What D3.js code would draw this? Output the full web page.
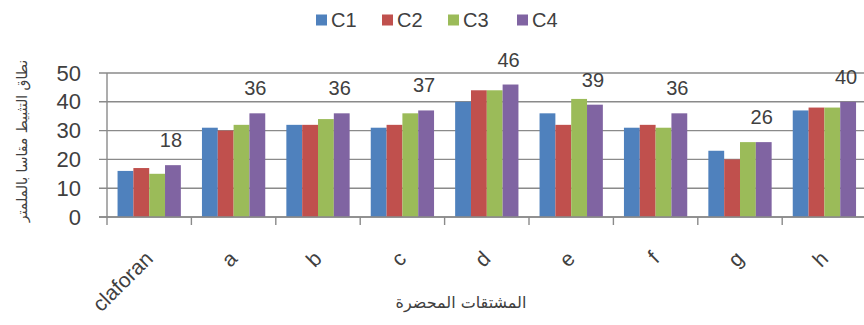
<!DOCTYPE html>
<html>
<head>
<meta charset="utf-8">
<script src="https://cdn.jsdelivr.net/npm/d3@7/dist/d3.min.js"></script>
<style>
  html, body { margin: 0; padding: 0; background: #fff; }
  svg { display: block; }
</style>
</head>
<body>
<svg id="chart" width="864" height="325"></svg>
<script>
// Categories on the x axis
const categories = ["claforan", "a", "b", "c", "d", "e", "f", "g", "h"];
// Series names
const seriesNames = ["C1", "C2", "C3", "C4"];
// Inhibition zone values per series (mm)
const c1 = [16, 31, 32, 31, 40, 36, 31, 23, 37];
const c2 = [17, 30, 32, 32, 44, 32, 32, 20, 38];
const c3 = [15, 32, 34, 36, 44, 41, 31, 26, 38];
const c4 = [18, 36, 36, 37, 46, 39, 36, 26, 40];
// Y axis ticks
const yTicks = [0, 10, 20, 30, 40, 50];
// Axis titles
const yTitle = "نطاق التثبيط مقاسا بالملمتر";
const xTitle = "المشتقات المحضرة";

const colors = ["#4F81BD", "#C0504D", "#9BBB59", "#8064A2"];
const seriesValues = [c1, c2, c3, c4];

const rows = categories.map((cat, i) => ({
  cat,
  values: seriesNames.map((s, j) => ({ key: s, value: seriesValues[j][i] }))
}));

const svg = d3.select("#chart");
const textColor = "#404040";
const gridColor = "#8a8a8a";
const font = "'Liberation Sans', Arial, sans-serif";
const arabicFont = "'DejaVu Sans', 'Noto Sans', sans-serif";

const x0 = d3.scaleBand()
  .domain(categories)
  .range([107, 866.6])
  .paddingInner(0.25)
  .paddingOuter(0.125);

const x1 = d3.scaleBand()
  .domain(seriesNames)
  .range([0, x0.bandwidth()]);

const y = d3.scaleLinear().domain([0, 50]).range([217, 73]);

const color = d3.scaleOrdinal().domain(seriesNames).range(colors);

// Y tick labels
const yAxis = d3.axisLeft(y).tickValues(yTicks).tickSize(0).tickPadding(26);
const yG = svg.append("g").attr("transform", "translate(107,0)").call(yAxis);
yG.select(".domain").remove();
yG.selectAll(".tick text")
  .attr("font-family", font)
  .attr("font-size", 22)
  .attr("fill", textColor);

// Horizontal gridlines, extending slightly left of the axis
svg.append("g").selectAll("line")
  .data(yTicks)
  .join("line")
  .attr("x1", 99)
  .attr("x2", 866)
  .attr("y1", d => y(d))
  .attr("y2", d => y(d))
  .attr("stroke", gridColor)
  .attr("stroke-width", 1.4);

// Vertical axis line
svg.append("line")
  .attr("x1", 107).attr("x2", 107)
  .attr("y1", y(50)).attr("y2", y(0) + 8)
  .attr("stroke", gridColor).attr("stroke-width", 1.4);

// Bars
const groups = svg.append("g").selectAll("g")
  .data(rows)
  .join("g")
  .attr("transform", d => `translate(${x0(d.cat)},0)`);

groups.selectAll("rect")
  .data(d => d.values)
  .join("rect")
  .attr("x", d => x1(d.key))
  .attr("width", x1.bandwidth())
  .attr("y", d => y(d.value))
  .attr("height", d => y(0) - y(d.value))
  .attr("fill", d => color(d.key));

// Category boundary ticks below the x axis
const boundaries = categories.map(c => x0(c) - x0.step() * x0.paddingInner() / 2);
svg.append("g").selectAll("line")
  .data(boundaries.slice(1))
  .join("line")
  .attr("x1", d => d).attr("x2", d => d)
  .attr("y1", y(0)).attr("y2", y(0) + 8)
  .attr("stroke", gridColor).attr("stroke-width", 1.4);

// X axis baseline (drawn over the bars)
svg.append("line")
  .attr("x1", 99).attr("x2", 866)
  .attr("y1", y(0)).attr("y2", y(0))
  .attr("stroke", gridColor).attr("stroke-width", 1.4);

// Category labels, rotated
svg.append("g").selectAll("text")
  .data(categories)
  .join("text")
  .attr("transform", d => `translate(${x0(d) + x0.bandwidth() / 2 + 5},260) rotate(-45)`)
  .attr("text-anchor", "end")
  .attr("font-family", font)
  .attr("font-size", 21)
  .attr("fill", textColor)
  .text(d => d);

// Value labels above the C4 bars
svg.append("g").selectAll("text")
  .data(rows)
  .join("text")
  .attr("x", d => x0(d.cat) + x1("C4") + x1.bandwidth() / 2 - 2)
  .attr("y", d => y(d.values[3].value) - 25)
  .attr("dy", "0.35em")
  .attr("text-anchor", "middle")
  .attr("font-family", font)
  .attr("font-size", 20)
  .attr("fill", textColor)
  .text(d => d.values[3].value);

// Legend
const legend = svg.append("g").attr("transform", "translate(316,20)");
const legendStep = [0, 66, 132, 201];
seriesNames.forEach((s, i) => {
  const g = legend.append("g").attr("transform", `translate(${legendStep[i]},0)`);
  g.append("rect").attr("x", 0).attr("y", -5.5).attr("width", 11).attr("height", 11).attr("fill", color(s));
  g.append("text")
    .attr("x", 15).attr("y", 0).attr("dy", "0.35em")
    .attr("font-family", font).attr("font-size", 20).attr("fill", textColor)
    .text(s);
});

// Axis titles
svg.append("text")
  .attr("transform", "translate(22,141) rotate(-90)")
  .attr("text-anchor", "middle")
  .attr("dy", "0.35em")
  .attr("direction", "rtl")
  .attr("font-family", arabicFont)
  .attr("font-size", 14)
  .attr("fill", textColor)
  .text(yTitle);

svg.append("text")
  .attr("x", 461).attr("y", 302)
  .attr("text-anchor", "middle")
  .attr("dy", "0.35em")
  .attr("direction", "rtl")
  .attr("font-family", arabicFont)
  .attr("font-size", 16)
  .attr("fill", textColor)
  .text(xTitle);
</script>
</body>
</html>
